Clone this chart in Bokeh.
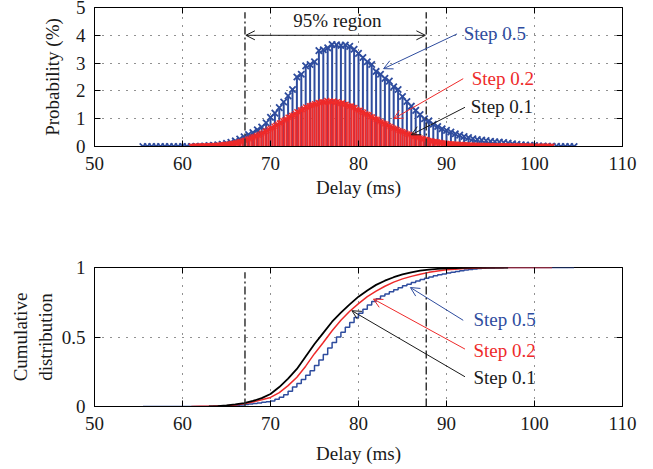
import numpy as np
from bokeh.plotting import figure
from bokeh.layouts import column
from bokeh.models import Range1d, LinearAxis, FixedTicker, Arrow, OpenHead, Label, ColumnDataSource
from bokeh.embed import file_html
from bokeh.resources import INLINE

# ---------------- data ----------------
X_TICKS = [50, 60, 70, 80, 90, 100, 110]
TOP_Y_TICKS = [0, 1, 2, 3, 4, 5]
BOT_Y_TICKS = [0, 0.5, 1]
BOT_Y_LABELS = {0: "0", 0.5: "0.5", 1: "1"}

# step 0.5 : probability (%) at 55.5, 56.0, ..., 104.5
step05_start, step05_step = 55.5, 0.5
pmf_step05 = [
    0, 0, 0, 0, 0, 0, 0, 0, 0, 0, 0, 0, 0.01, 0.01, 0.02,
    0.03, 0.04, 0.06, 0.08, 0.11, 0.15, 0.20, 0.27, 0.35, 0.43,
    0.50, 0.60, 0.70, 0.85, 1.05, 1.20, 1.40, 1.60, 1.82, 2.05,
    2.50, 2.60, 2.90, 2.95, 3.05, 3.45, 3.48, 3.55, 3.67, 3.66,
    3.64, 3.65, 3.60, 3.50, 3.35, 3.20, 3.05, 2.95, 2.70, 2.60,
    2.45, 2.35, 2.15, 2.05, 1.80, 1.62, 1.45, 1.30, 1.15, 1.00,
    0.92, 0.80, 0.72, 0.64, 0.58, 0.52, 0.46, 0.41, 0.36, 0.32,
    0.28, 0.25, 0.23, 0.21, 0.19, 0.17, 0.16, 0.14, 0.12, 0.10,
    0.08, 0.06, 0.05, 0.04, 0.03, 0.02, 0.02, 0.01, 0.01, 0.01,
    0, 0, 0, 0,
]
cdf_step05 = [
    0, 0, 0, 0, 0, 0, 0, 0, 0, 0, 0, 0, 0, 0, 0, 0,
    0.001, 0.002, 0.003, 0.004, 0.006, 0.008, 0.011, 0.014, 0.018,
    0.022, 0.026, 0.030, 0.035, 0.040, 0.052, 0.067, 0.085, 0.110, 0.140,
    0.165, 0.195, 0.225, 0.257, 0.295, 0.335, 0.375, 0.420, 0.460, 0.500,
    0.535, 0.570, 0.605, 0.640, 0.670, 0.700, 0.730, 0.755, 0.775, 0.795,
    0.810, 0.825, 0.840, 0.855, 0.868, 0.880, 0.892, 0.903, 0.913, 0.922,
    0.931, 0.940, 0.947, 0.954, 0.960, 0.966, 0.972, 0.977, 0.982, 0.986,
    0.989, 0.992, 0.994, 0.996, 0.997, 0.998, 0.999, 1, 1, 1,
    1, 1, 1, 1, 1, 1, 1, 1, 1, 1, 1, 1, 1, 1,
]

# step 0.2 : probability (%) at 61.0, 61.2, ..., 102.0
step02_start, step02_step = 61.0, 0.2
pmf_step02 = [
    0.01, 0.01, 0.01, 0.02, 0.02,
    0.02, 0.02, 0.02, 0.03, 0.03,
    0.03, 0.03, 0.04, 0.04, 0.04,
    0.05, 0.05, 0.06, 0.06, 0.07,
    0.08, 0.08, 0.09, 0.11, 0.11,
    0.13, 0.14, 0.16, 0.17, 0.19,
    0.22, 0.23, 0.26, 0.28, 0.31,
    0.34, 0.35, 0.39, 0.41, 0.44,
    0.48, 0.50, 0.55, 0.57, 0.62,
    0.65, 0.67, 0.73, 0.76, 0.80,
    0.85, 0.86, 0.93, 0.95, 0.99,
    1.05, 1.06, 1.12, 1.13, 1.19,
    1.25, 1.24, 1.31, 1.33, 1.37,
    1.42, 1.40, 1.47, 1.48, 1.50,
    1.54, 1.52, 1.58, 1.57, 1.62,
    1.60, 1.58, 1.66, 1.61, 1.63,
    1.60, 1.64, 1.59, 1.61, 1.56,
    1.55, 1.58, 1.51, 1.52, 1.47,
    1.45, 1.47, 1.40, 1.40, 1.34,
    1.30, 1.31, 1.25, 1.23, 1.18,
    1.15, 1.14, 1.08, 1.06, 1.01,
    0.98, 0.97, 0.91, 0.88, 0.85,
    0.82, 0.80, 0.75, 0.72, 0.69,
    0.66, 0.64, 0.60, 0.58, 0.55,
    0.53, 0.51, 0.48, 0.45, 0.43,
    0.41, 0.39, 0.36, 0.34, 0.33,
    0.31, 0.29, 0.27, 0.25, 0.24,
    0.22, 0.21, 0.19, 0.18, 0.17,
    0.16, 0.15, 0.14, 0.13, 0.12,
    0.11, 0.10, 0.10, 0.09, 0.09,
    0.08, 0.08, 0.07, 0.07, 0.07,
    0.06, 0.06, 0.06, 0.05, 0.05,
    0.05, 0.05, 0.05, 0.04, 0.04,
    0.04, 0.04, 0.04, 0.04, 0.03,
    0.035, 0.03, 0.03, 0.03, 0.03,
    0.03, 0.03, 0.03, 0.03, 0.02,
    0.025, 0.02, 0.02, 0.02, 0.02,
    0.02, 0.02, 0.02, 0.02, 0.02,
    0.015, 0.015, 0.015, 0.01, 0.01,
    0.01, 0.01, 0.01, 0.01, 0.01,
    0.01, 0.01, 0.01, 0.01, 0.01,
    0.01,
]
# step 0.2 CDF at 61, 62, ..., 102
cdf02_x = list(range(61, 103))
cdf_step02 = [
    0, 0.001, 0.002, 0.004, 0.006, 0.011, 0.020, 0.033, 0.048, 0.065,
    0.10, 0.15, 0.21, 0.29, 0.38, 0.46, 0.545, 0.62, 0.685, 0.74,
    0.79, 0.83, 0.865, 0.895, 0.918, 0.936, 0.952, 0.965, 0.975, 0.983,
    0.988, 0.992, 0.995, 0.997, 0.998, 0.999, 1, 1, 1, 1, 1, 1,
]
# step 0.1 CDF at 63, 64, ..., 97
cdf01_x = list(range(63, 98))
cdf_step01 = [
    0, 0.003, 0.008, 0.015, 0.025, 0.04, 0.06, 0.09, 0.14, 0.20,
    0.27, 0.36, 0.45, 0.53, 0.61, 0.675, 0.735, 0.79, 0.835, 0.875,
    0.905, 0.93, 0.95, 0.965, 0.977, 0.985, 0.99, 0.994, 0.996, 0.998,
    0.999, 1, 1, 1, 1,
]
region_95 = [67.1, 87.7]

# ---------------- styling / placement ----------------
BLUE = "#2E4C9E"
RED = "#EE2A2A"
BLACK = "#1a1a1a"
FONT = "Liberation Serif"
TICK_FS = "19px"
TEXT_FS = "19px"

x05 = np.round(step05_start + step05_step * np.arange(len(pmf_step05)), 2)
x02 = np.round(step02_start + step02_step * np.arange(len(pmf_step02)), 2)


def style(p, yticks, ylabel, xlabel_standoff, ylabel_standoff, overrides=None):
    p.x_range = Range1d(50, 110)
    p.xaxis.ticker = FixedTicker(ticks=X_TICKS)
    p.yaxis.ticker = FixedTicker(ticks=yticks)
    if overrides:
        p.yaxis.major_label_overrides = overrides
    p.xaxis.axis_label = "Delay (ms)"
    p.yaxis.axis_label = ylabel
    for ax in p.xaxis + p.yaxis:
        ax.major_label_text_font = FONT
        ax.major_label_text_font_size = TICK_FS
        ax.major_label_text_color = BLACK
        ax.axis_label_text_font = FONT
        ax.axis_label_text_font_size = TEXT_FS
        ax.axis_label_text_font_style = "normal"
        ax.axis_label_text_color = BLACK
        ax.major_tick_in = 6
        ax.major_tick_out = 0
        ax.minor_tick_line_color = None
        ax.axis_line_color = "black"
        ax.major_tick_line_color = "black"
    p.xaxis.major_label_standoff = 10
    p.yaxis.major_label_standoff = 9
    p.xaxis.axis_label_standoff = xlabel_standoff
    p.yaxis.axis_label_standoff = ylabel_standoff
    p.xgrid.ticker = FixedTicker(ticks=X_TICKS[1:-1])
    p.ygrid.ticker = FixedTicker(ticks=yticks[1:-1])
    for g in (p.xgrid[0], p.ygrid[0]):
        g.grid_line_color = "#222222"
        g.grid_line_dash = "1 7"
        g.grid_line_width = 1
    p.outline_line_color = "black"
    p.outline_line_width = 1
    for loc, tk in (("right", yticks), ("above", X_TICKS)):
        ax = LinearAxis(ticker=FixedTicker(ticks=tk), major_label_text_font_size="1px",
                        major_label_text_color=None,
                        major_label_standoff=0, major_tick_in=6, major_tick_out=0,
                        minor_tick_line_color=None, axis_line_color=None,
                        major_tick_line_color="black")
        p.add_layout(ax, loc)


def note(p, x, y, text, color):
    p.add_layout(Label(x=x, y=y, text=text, text_font=FONT, text_font_size=TEXT_FS,
                       text_color=color, text_align="center", text_baseline="middle"))


def arrow(p, xs, ys, xe, ye, color, both=False):
    p.add_layout(Arrow(end=OpenHead(size=9, line_color=color, line_width=1),
                       start=OpenHead(size=9, line_color=color, line_width=1) if both else None,
                       x_start=xs, y_start=ys, x_end=xe, y_end=ye,
                       line_color=color, line_width=1))


# ---------------- top: probability ----------------
p1 = figure(width=653, height=235, output_backend="svg", toolbar_location=None,
            min_border_left=94, min_border_right=31, min_border_top=7, min_border_bottom=89,
            y_range=Range1d(0, 5), background_fill_color="white", border_fill_color="white")
style(p1, TOP_Y_TICKS, "Probability (%)", 4, 10)

s05 = ColumnDataSource(dict(x=x05, y=pmf_step05))
s02 = ColumnDataSource(dict(x=x02, y=pmf_step02))
p1.segment(x0="x", y0=0, x1="x", y1="y", source=s05, line_color=BLUE, line_width=2)
p1.scatter(x="x", y="y", source=s05, marker="x", size=9, line_color=BLUE, line_width=1.8)
p1.segment(x0="x", y0=0, x1="x", y1="y", source=s02, line_color=RED, line_width=1.6)
p1.scatter(x="x", y="y", source=s02, marker="x", size=7, line_color=RED, line_width=1.4)

p1.segment(x0=region_95, y0=[0, 0], x1=region_95, y1=[4.83, 4.83],
           line_color="#333333", line_width=1.5, line_dash="8 3 2 3")
arrow(p1, region_95[0] + 0.1, 4.0, region_95[1] - 0.1, 4.0, BLACK, both=True)
note(p1, 77.6, 4.52, "95% region", BLACK)
note(p1, 95.5, 4.05, "Step 0.5", BLUE)
arrow(p1, 91.2, 4.05, 82.85, 2.8, BLUE)
note(p1, 96.4, 2.45, "Step 0.2", RED)
arrow(p1, 91.9, 2.44, 84.0, 1.0, RED)
note(p1, 96.3, 1.44, "Step 0.1", BLACK)
arrow(p1, 92.1, 1.41, 86.0, 0.42, BLACK)

# ---------------- bottom: CDF ----------------
p2 = figure(width=653, height=234, output_backend="svg", toolbar_location=None,
            min_border_left=94, min_border_right=31, min_border_top=32, min_border_bottom=63,
            y_range=Range1d(0, 1), background_fill_color="white", border_fill_color="white")
style(p2, BOT_Y_TICKS, "Cumulative\ndistribution", 10, 3, BOT_Y_LABELS)

p2.step(x=x05, y=cdf_step05, mode="after", line_color=BLUE, line_width=1.5)
p2.line(x=cdf02_x, y=cdf_step02, line_color=RED, line_width=1.5)
p2.line(x=cdf01_x, y=cdf_step01, line_color="black", line_width=1.8)
p2.segment(x0=region_95, y0=[0, 0], x1=region_95, y1=[0.965, 0.965],
           line_color="#333333", line_width=1.5, line_dash="8 3 2 3")
note(p2, 96.6, 0.624, "Step 0.5", BLUE)
arrow(p2, 91.9, 0.62, 85.9, 0.856, BLUE)
note(p2, 96.6, 0.40, "Step 0.2", RED)
arrow(p2, 92.1, 0.413, 81.7, 0.773, RED)
note(p2, 96.6, 0.209, "Step 0.1", BLACK)
arrow(p2, 92.1, 0.214, 79.25, 0.689, BLACK)

layout = column(p1, p2, spacing=0)
open("out.html", "w").write(file_html(layout, INLINE))
